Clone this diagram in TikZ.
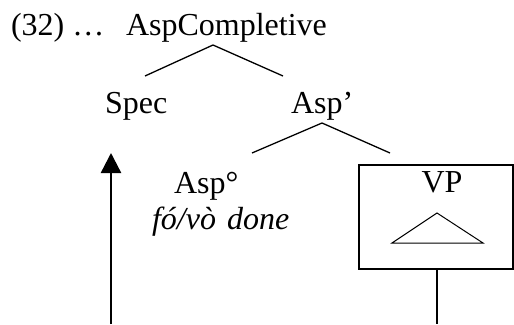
\documentclass[tikz,border=0pt]{standalone}
\usepackage{fontspec}
\setmainfont{Liberation Serif}
\usetikzlibrary{arrows.meta}
\begin{document}
\begin{tikzpicture}[x=1pt,y=-1pt,
  every node/.style={inner sep=0pt,outer sep=0pt,font=\fontsize{32}{38}\selectfont},
  lbl/.style={anchor=base west},
  branch/.style={line width=1.3pt},
  thick line/.style={line width=2.4pt},
  box/.style={draw,line width=2.8pt,minimum width=154pt,minimum height=104pt,anchor=north west}]
\useasboundingbox (0,0) rectangle (514,324);

% labels
\node[lbl] (ex) at (11,35) {(32) \ldots};
\node[lbl] (top) at (126,35) {AspCompletive};
\node[lbl] (spec) at (105,113) {Spec};
\node[lbl] (aspbar) at (291,113) {Asp’};
\node[lbl] (asphead) at (174,193) {Asp°};
\node[lbl] (gloss) at (152,229) {\itshape fó/vò\hspace{0.1em} done};

% VP box with its triangle
\node[box] (vpbox) at (359,165) {};
\node[anchor=base] (vp) at (442,192) {VP};
\coordinate (triTop) at (437,213);
\coordinate (triL) at (392,243);
\coordinate (triR) at (483,243);
\draw[line width=1pt] (triTop) -- (triL) -- (triR) -- cycle;

% branches
\coordinate (topApex) at (213,45);
\coordinate (specEnd) at (145,76);
\coordinate (barEnd) at (283,76);
\coordinate (barApex) at (322,123);
\coordinate (headEnd) at (252,153);
\coordinate (vpEnd) at (390,153);
\draw[branch] (specEnd) -- (topApex) -- (barEnd);
\draw[branch] (headEnd) -- (barApex) -- (vpEnd);

% movement path
\coordinate (vpFoot) at (437,324);
\coordinate (arrFoot) at (111,324);
\coordinate (arrTip) at (111,153);
\draw[thick line] (vpbox.south -| vpFoot) -- (vpFoot);
\draw[thick line,-{Triangle[length=20pt,width=20pt]}] (arrFoot) -- (arrTip);
\end{tikzpicture}
\end{document}
